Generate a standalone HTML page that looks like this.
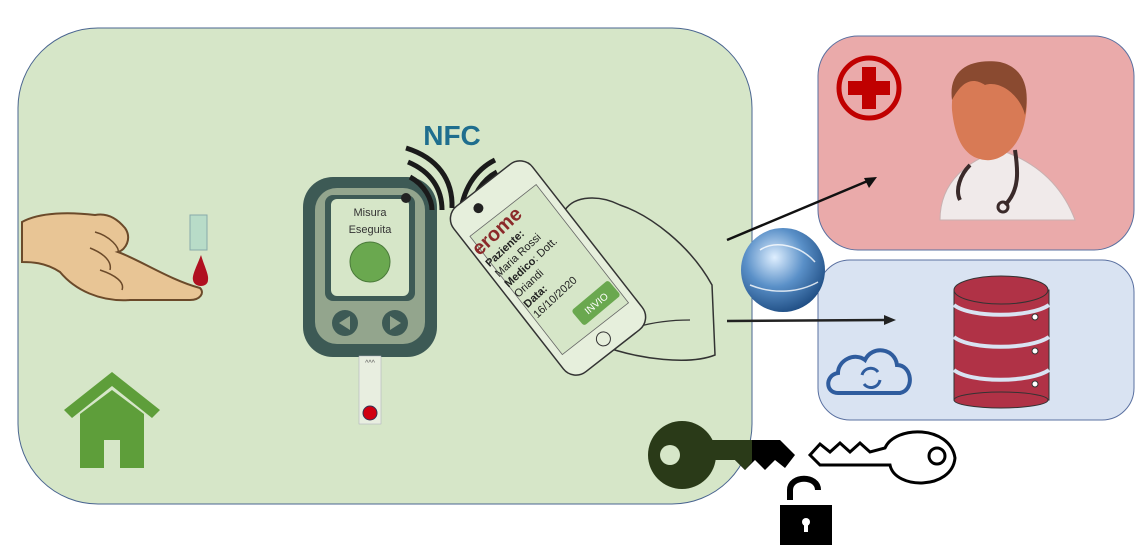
<!DOCTYPE html>
<html><head><meta charset="utf-8"><style>
html,body{margin:0;padding:0;background:#fff;width:1145px;height:556px;overflow:hidden}
svg{display:block;font-family:"Liberation Sans",sans-serif}
</style></head><body>
<svg width="1145" height="556" viewBox="0 0 1145 556">
<rect x="18" y="28" width="734" height="476" rx="80" fill="#d6e6c8" stroke="#4a6590" stroke-width="1"/>
<rect x="818" y="36" width="316" height="214" rx="40" fill="#eaaaaa" stroke="#5a70a0" stroke-width="1"/>
<rect x="818" y="260" width="316" height="160" rx="32" fill="#d9e3f2" stroke="#5a70a0" stroke-width="1"/>

<path d="M22 222 C40 212 70 212 95 215 C110 212 120 222 125 228 C132 238 126 250 118 252 C140 260 170 280 200 288 C205 293 200 300 190 300 L130 300 C100 302 75 290 60 272 C45 262 30 262 22 262 Z" fill="#e8c595" stroke="#6b4a2a" stroke-width="2"/>
<path d="M95 232 C110 236 120 248 118 252 M90 248 C105 254 112 262 110 270 M100 270 C115 275 125 282 122 290" fill="none" stroke="#6b4a2a" stroke-width="1.5"/>
<rect x="190" y="215" width="17" height="35" fill="#b8dcc8" stroke="#8aa" stroke-width="1"/>
<path d="M201 255 C196 268 192 275 193 280 C194 288 208 288 208 280 C209 275 205 268 201 255Z" fill="#b01020"/>

<path d="M64 410 L112 372 L160 410 L152 418 L112 386 L72 418 Z" fill="#5e9e3a"/>
<path d="M80 414 L112 390 L144 414 L144 468 L120 468 L120 440 L104 440 L104 468 L80 468 Z" fill="#5e9e3a"/>

<rect x="303" y="177" width="134" height="180" rx="30" fill="#3d5a55"/>
<rect x="315" y="188" width="110" height="156" rx="22" fill="#93a58d"/>
<rect x="325" y="195" width="90" height="106" rx="8" fill="#3d5a55"/>
<rect x="331" y="199" width="78" height="97" rx="6" fill="#d6e6c8"/>
<text x="370" y="216" font-size="11" fill="#333" text-anchor="middle">Misura</text>
<text x="370" y="233" font-size="11" fill="#333" text-anchor="middle">Eseguita</text>
<circle cx="370" cy="262" r="20" fill="#6aa84f" stroke="#4a7a3a"/>
<circle cx="345" cy="323" r="13" fill="#3d5a55"/><path d="M339 323 L350 316 L350 330Z" fill="#93a58d"/>
<circle cx="395" cy="323" r="13" fill="#3d5a55"/><path d="M401 323 L390 316 L390 330Z" fill="#93a58d"/>
<circle cx="406" cy="198" r="5" fill="#222"/>
<rect x="359" y="356" width="22" height="68" fill="#e8eee0" stroke="#aab" stroke-width="0.5"/>
<text x="370" y="365" font-size="7" fill="#555" text-anchor="middle">^^^</text>
<circle cx="370" cy="413" r="7" fill="#d00010" stroke="#335"/>

<text x="452" y="145" font-size="28" font-weight="bold" fill="#1f6e8e" text-anchor="middle">NFC</text>
<g fill="none" stroke="#1a1a1a" stroke-width="5">
<path d="M410 177 C425 185 432 200 432 210"/>
<path d="M408 162 C432 172 442 190 442 210"/>
<path d="M406 148 C438 158 453 180 452 208"/>
<path d="M480 212 C482 198 488 188 498 182"/>
<path d="M470 215 C472 196 482 180 497 172"/>
<path d="M460 218 C462 190 475 170 495 160"/>
</g>

<!-- hand -->
<path d="M565 210 C575 195 600 195 620 205 C650 215 690 245 712 285 L715 355 C690 365 640 360 600 345 C580 355 560 345 550 330" fill="none" stroke="#333" stroke-width="1.5"/>
<path d="M600 345 C620 330 650 320 690 320 M590 250 C575 260 575 275 590 285" fill="none" stroke="#333" stroke-width="1.3"/>
<!-- phone -->
<g transform="rotate(-38 548 268)">
<rect x="498" y="163" width="100" height="210" rx="16" fill="#e6efdc" stroke="#333" stroke-width="1.5"/>
<rect x="506" y="195" width="84" height="150" fill="#d6e6c8" stroke="#666" stroke-width="0.8"/>
<circle cx="548" cy="358" r="7" fill="none" stroke="#333"/>
<circle cx="530" cy="178" r="5" fill="#222"/>
</g>
<g transform="rotate(-43 483 253)" font-size="11" fill="#222">
<text x="478" y="253" font-size="20" font-weight="bold" fill="#8b2a2a">erome</text>
<text x="478" y="268" font-weight="bold">Paziente:</text>
<text x="478" y="282">Maria Rossi</text>
<text x="478" y="296"><tspan font-weight="bold">Medico</tspan>: Dott.</text>
<text x="478" y="310">Oriandi</text>
<text x="478" y="324" font-weight="bold">Data:</text>
<text x="478" y="338">16/10/2020</text>
</g>
<g transform="rotate(-40 596 303)">
<rect x="572" y="293" width="48" height="20" rx="3" fill="#6aa84f"/>
<text x="596" y="307" font-size="10" fill="#fff" text-anchor="middle">INVIO</text>
</g>

<line x1="727" y1="240" x2="870" y2="180" stroke="#111" stroke-width="2.5"/>
<path d="M877 177 L864 178 L869 188Z" fill="#111"/>
<line x1="727" y1="321" x2="886" y2="320" stroke="#222" stroke-width="2.5"/>
<path d="M896 320 L884 315 L884 325Z" fill="#222"/>

<defs><radialGradient id="g" cx="0.4" cy="0.35" r="0.7"><stop offset="0" stop-color="#dfefff"/><stop offset="0.5" stop-color="#5a90c8"/><stop offset="1" stop-color="#1c4a80"/></radialGradient></defs>
<circle cx="783" cy="270" r="42" fill="url(#g)"/>
<path d="M760 250 C775 240 800 245 815 262 M750 285 C775 295 800 292 818 282" fill="none" stroke="#fff" stroke-width="1.5" opacity="0.8"/>

<circle cx="869" cy="88" r="30" fill="none" stroke="#c00000" stroke-width="5"/>
<path d="M862 67 h14 v14 h14 v14 h-14 v14 h-14 v-14 h-14 v-14 h14Z" fill="#c00000"/>
<path d="M940 220 C940 180 970 160 1000 150 C1030 160 1060 180 1075 220 Z" fill="#f0eaea" stroke="#c9b0b0"/>
<path d="M952 110 C950 75 975 60 1000 68 C1025 72 1030 95 1025 120 C1020 148 1000 162 985 160 C965 158 955 140 952 110Z" fill="#d87a55"/>
<path d="M952 100 C948 70 970 58 1000 62 C1025 68 1030 90 1025 115 C1020 95 1000 80 985 85 C970 75 960 85 952 100Z" fill="#8a4a30"/>
<path d="M970 165 C960 175 955 190 960 200 M1015 150 C1018 170 1020 190 1005 205" fill="none" stroke="#3a2a2a" stroke-width="4"/>
<circle cx="1003" cy="207" r="5" fill="none" stroke="#3a2a2a" stroke-width="3"/>

<path d="M838 393 C825 393 825 375 838 373 C838 360 855 352 865 360 C872 345 895 348 897 365 C912 365 915 390 900 393 Z" fill="none" stroke="#2f5c9e" stroke-width="4"/>
<path d="M862 375 A9 9 0 0 1 878 372 M880 380 A9 9 0 0 1 864 384" fill="none" stroke="#2f5c9e" stroke-width="3"/>

<g fill="#b03246" stroke="#333" stroke-width="1">
<rect x="954" y="290" width="95" height="110"/>
<ellipse cx="1001" cy="400" rx="47" ry="8"/>
<ellipse cx="1001" cy="290" rx="47" ry="14"/>
</g>
<path d="M954 305 C970 318 1030 318 1049 305 M954 337 C970 350 1030 350 1049 337 M954 370 C970 383 1030 383 1049 370" fill="none" stroke="#d9e3f2" stroke-width="4"/>
<circle cx="1035" cy="317" r="3" fill="#fff" stroke="#333"/>
<circle cx="1035" cy="351" r="3" fill="#fff" stroke="#333"/>
<circle cx="1035" cy="384" r="3" fill="#fff" stroke="#333"/>

<circle cx="682" cy="455" r="34" fill="#2a3a18"/>
<circle cx="670" cy="455" r="10" fill="#d6e6c8"/>
<path d="M710 440 L780 440 L795 455 L785 468 L775 460 L765 470 L755 460 L745 470 L735 460 L710 460Z" fill="#000"/>
<path d="M710 440 L752 440 L752 462 L745 470 L735 460 L710 460Z" fill="#2a3a18"/>
<path d="M810 455 L820 444 L830 452 L840 443 L850 452 L860 443 L870 452 L885 448 C895 425 950 425 955 458 C952 490 895 490 890 465 L820 465Z" fill="#fff" stroke="#000" stroke-width="3"/>
<circle cx="937" cy="456" r="8" fill="#fff" stroke="#000" stroke-width="3"/>
<path d="M790 500 L790 490 C790 475 818 475 818 490" fill="none" stroke="#000" stroke-width="6"/>
<rect x="780" y="505" width="52" height="40" fill="#000"/>
<circle cx="806" cy="522" r="4" fill="#fff"/><rect x="804" y="522" width="4" height="10" fill="#fff"/>
</svg>
</body></html>
